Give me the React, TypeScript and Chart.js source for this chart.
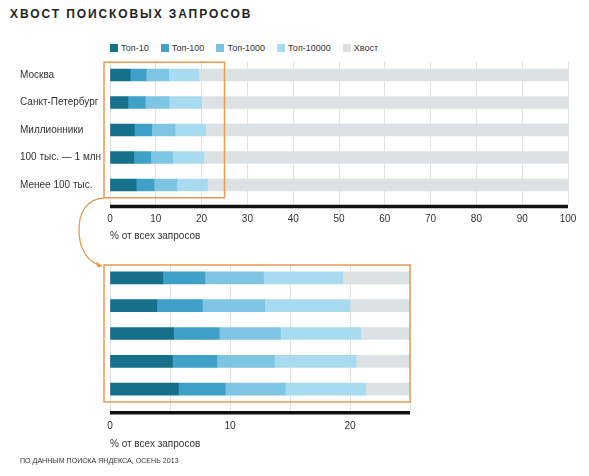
import React, { useEffect, useRef } from 'react';
import { Chart, registerables } from 'chart.js';

Chart.register(...registerables);

const categories = ['Москва', 'Санкт-Петербург', 'Миллионники', '100 тыс. — 1 млн', 'Менее 100 тыс.'];
const seriesNames = ['Топ-10', 'Топ-100', 'Топ-1000', 'Топ-10000', 'Хвост'];
const top10 = [4.4, 3.9, 5.3, 5.2, 5.7];
const top100 = [3.5, 3.8, 3.8, 3.7, 3.9];
const top1000 = [4.9, 5.2, 5.1, 4.8, 5.0];
const top10000 = [6.6, 7.1, 6.7, 6.8, 6.7];
const tail = [80.6, 80.0, 79.1, 79.5, 78.7];
const seriesColors = ['#17708a', '#3fa1c7', '#7ec5e3', '#a8dbef', '#dce2e4'];

const FONT = '"Liberation Sans", Arial, sans-serif';
const TEXT = '#333';
const ORANGE = '#e99a4f';

interface PanelProps {
    showLabels: boolean;
    max: number;
    gridStep: number;
    labelStep: number;
    highlightMax: number;
    height: number;
    padTop: number;
    padRight: number;
    tickLength: number;
    tickPad: number;
    axisHeight: number;
    titlePad: number;
}

// thick black axis line under the ticks + the orange highlight frame
function framePlugin(tickLength: number, highlightMax: number) {
    return {
        id: 'frame',
        afterDraw(chart: any) {
            const { ctx, chartArea, scales } = chart;
            ctx.save();
            ctx.fillStyle = '#111';
            ctx.fillRect(chartArea.left, chartArea.bottom + tickLength, chartArea.right - chartArea.left, 3.5);
            const right = scales.x.getPixelForValue(highlightMax);
            ctx.strokeStyle = ORANGE;
            ctx.lineWidth = 1.5;
            ctx.strokeRect(chartArea.left - 6, chartArea.top + 1, right - chartArea.left + 6, chartArea.bottom - chartArea.top - 2);
            ctx.restore();
        },
    };
}

function Panel(p: PanelProps) {
    const chartRef = useRef<HTMLCanvasElement | null>(null);
    const chartInstance = useRef<Chart | null>(null);

    useEffect(() => {
        if (!chartRef.current) return;
        if (chartInstance.current) chartInstance.current.destroy();
        const values = [top10, top100, top1000, top10000, tail];

        chartInstance.current = new Chart(chartRef.current, {
            type: 'bar',
            data: {
                labels: categories,
                datasets: values.map((v, i) => ({
                    label: seriesNames[i],
                    data: v,
                    backgroundColor: seriesColors[i],
                    borderWidth: 0,
                    barThickness: 12,
                })),
            },
            options: {
                indexAxis: 'y',
                animation: false,
                responsive: true,
                maintainAspectRatio: false,
                layout: { padding: { top: p.padTop, left: 20, right: p.padRight, bottom: 0 } },
                plugins: { legend: { display: false }, tooltip: { enabled: false } },
                scales: {
                    x: {
                        stacked: true,
                        min: 0,
                        max: p.max,
                        border: { display: false },
                        grid: { color: '#e2e2e2', tickColor: '#e2e2e2', tickLength: p.tickLength, lineWidth: 1 },
                        ticks: {
                            stepSize: p.gridStep,
                            padding: p.tickPad,
                            color: TEXT,
                            font: { family: FONT, size: 10 },
                            callback: (v: any) => (Number(v) % p.labelStep === 0 ? String(v) : ''),
                        },
                        title: {
                            display: true,
                            text: '% от всех запросов',
                            align: 'start',
                            color: TEXT,
                            font: { family: FONT, size: 10 },
                            padding: { top: 0, bottom: p.titlePad },
                        },
                        afterFit: (scale: any) => { scale.height = p.axisHeight; },
                    },
                    y: {
                        stacked: true,
                        border: { display: false },
                        grid: { display: false },
                        ticks: { display: p.showLabels, color: TEXT, crossAlign: 'far', font: { family: FONT, size: 10 } },
                        afterFit: (scale: any) => { scale.width = 90; },
                    },
                },
            },
            plugins: [framePlugin(p.tickLength, p.highlightMax)],
        } as any);

        return () => {
            if (chartInstance.current) {
                chartInstance.current.destroy();
                chartInstance.current = null;
            }
        };
    }, []);

    return (
        <div style={{ position: 'relative', width: 589, height: p.height }}>
            <canvas ref={chartRef} />
        </div>
    );
}

export default function App() {
    return (
        <div style={{ position: 'absolute', left: 0, top: 0, width: 589, height: 476, background: '#fff', fontFamily: FONT, color: TEXT }}>
            <div style={{ position: 'absolute', left: 10, top: 8, fontSize: 12, lineHeight: '12px', fontWeight: 'bold', letterSpacing: 1.9, color: '#222' }}>
                ХВОСТ ПОИСКОВЫХ ЗАПРОСОВ
            </div>
            <div style={{ position: 'absolute', left: 110, top: 42, display: 'flex', gap: 12, fontSize: 9, lineHeight: '12px' }}>
                {seriesNames.map((name, i) => (
                    <div key={name} style={{ display: 'flex', alignItems: 'center' }}>
                        <span style={{ width: 8, height: 8, background: seriesColors[i], marginRight: 3, display: 'inline-block' }} />
                        {name}
                    </div>
                ))}
            </div>
            <div style={{ position: 'absolute', left: 0, top: 0 }}>
                <Panel showLabels max={100} gridStep={10} labelStep={10} highlightMax={25} height={252}
                    padTop={61.25} padRight={21} tickLength={6} tickPad={8.5} axisHeight={53.25} titlePad={9.5} />
            </div>
            <div style={{ position: 'absolute', left: 0, top: 250 }}>
                <Panel showLabels={false} max={25} gridStep={5} labelStep={10} highlightMax={25} height={205}
                    padTop={14} padRight={179} tickLength={8} tickPad={9.5} axisHeight={52} titlePad={5} />
            </div>
            <svg width={589} height={476} style={{ position: 'absolute', left: 0, top: 0, pointerEvents: 'none' }}>
                <path d="M104,198 C86,199 79,213 79,230 C79,248 87,261 99,265" fill="none" stroke={ORANGE} strokeWidth={1.3} />
                <path d="M103,266 L96,261.5 L97.5,267.5 Z" fill={ORANGE} />
            </svg>
            <div style={{ position: 'absolute', left: 20, top: 456, fontSize: 7.1, lineHeight: '10px', color: '#333' }}>
                ПО ДАННЫМ ПОИСКА ЯНДЕКСА, ОСЕНЬ 2013
            </div>
        </div>
    );
}
